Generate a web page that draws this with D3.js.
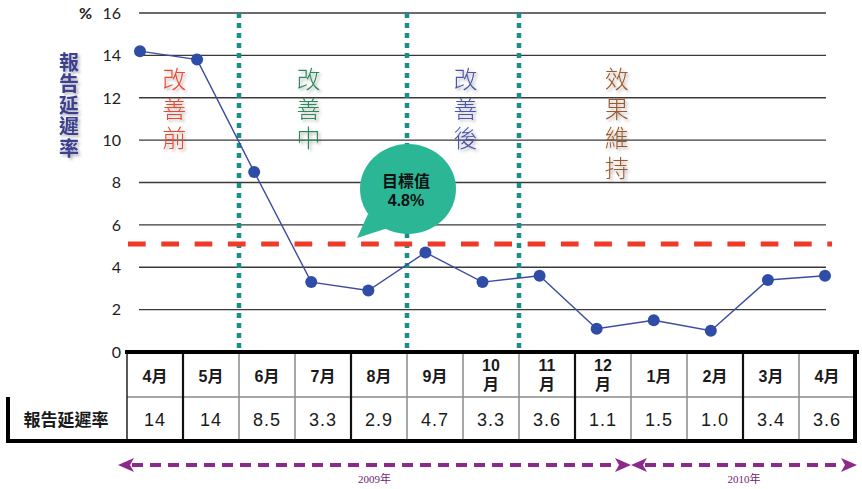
<!DOCTYPE html>
<html>
<head>
<meta charset="utf-8">
<script src="https://cdn.jsdelivr.net/npm/d3@7"></script>
<style>
  body { margin: 0; background: #fff; }
  svg { display: block; }
  .cjk { font-family: "Liberation Sans", "Noto Sans CJK TC", sans-serif; }
  .vert { writing-mode: vertical-rl; text-orientation: upright; }
</style>
</head>
<body>
<script>
// data
var months = ["4月", "5月", "6月", "7月", "8月", "9月", "10月", "11月", "12月", "1月", "2月", "3月", "4月"];
var tableValues = ["14", "14", "8.5", "3.3", "2.9", "4.7", "3.3", "3.6", "1.1", "1.5", "1.0", "3.4", "3.6"];
var plotValues = [14.2, 13.8, 8.5, 3.3, 2.9, 4.7, 3.3, 3.6, 1.1, 1.5, 1.0, 3.4, 3.6];
var yTicks = [0, 2, 4, 6, 8, 10, 12, 14, 16];
var targetLine = 5.1;
var targetLabel = ["目標值", "4.8%"];
var phaseCuts = [2, 5, 7];               // column index where each new phase starts
var phaseNames = ["改善前", "改善中", "改善後", "效果維持"];
var phaseAt = [0.6, 2.95, 5.7, 8.35];     // label position on the month axis
var phaseColors = ["#ea4a2e", "#2c8a5c", "#4b55a8", "#9c5a2a"];
var thickCols = [1, 4, 8, 11];
var years = [{label: "2009年", from: 0, to: 9}, {label: "2010年", from: 9, to: 13}];

var W = 862, H = 489;
var svg = d3.select("body").append("svg").attr("width", W).attr("height", H);

var defs = svg.append("defs");
var f = defs.append("filter").attr("id", "shadow").attr("x", "-50%").attr("y", "-50%").attr("width", "200%").attr("height", "200%");
f.append("feDropShadow").attr("dx", 2).attr("dy", 2).attr("stdDeviation", 1.6)
  .attr("flood-color", "#000").attr("flood-opacity", 0.3);

// scales
var y = d3.scaleLinear().domain([0, 16]).range([352, 13]);
var x = d3.scaleLinear().domain([0, months.length - 1]).range([140, 825]);
var col = d3.scaleBand().domain(d3.range(months.length)).range([127, 855]);

// gridlines
svg.append("g").selectAll("line")
  .data(yTicks.filter(d => d > 0))
  .enter().append("line")
  .attr("x1", 139).attr("x2", 826)
  .attr("y1", d => y(d)).attr("y2", d => y(d))
  .attr("stroke", "#3a3a3a").attr("stroke-width", 1.3);

// tick labels
svg.append("g").selectAll("text")
  .data(yTicks)
  .enter().append("text")
  .attr("x", 121).attr("y", d => y(d)).attr("dy", "0.36em")
  .attr("text-anchor", "end")
  .style("font-family", "Lato, sans-serif").style("font-size", "16px").attr("fill", "#222")
  .text(d => d);

svg.append("text").attr("x", 92).attr("y", y(16)).attr("dy", "0.36em")
  .attr("text-anchor", "end")
  .style("font-family", "Lato, sans-serif").style("font-size", "16px").style("font-weight", "bold")
  .attr("fill", "#222").text("%");

// y title, vertical
svg.append("text").attr("class", "vert").attr("filter", "url(#shadow)")
  .attr("x", 69).attr("y", 52)
  .style("font-family", "Noto Sans CJK TC").style("font-size", "20px").style("font-weight", "bold")
  .style("letter-spacing", "1.5px")
  .attr("fill", "#3c3f8e").text("報告延遲率");

// phase labels
phaseNames.forEach(function (name, p) {
  svg.append("text").attr("class", "vert").attr("filter", "url(#shadow)")
    .attr("x", x(phaseAt[p])).attr("y", 67)
    .style("font-family", "Noto Sans CJK TC").style("font-size", "24px").style("font-weight", "300")
    .style("letter-spacing", "5.5px")
    .attr("fill", phaseColors[p]).text(name);
});

// phase separators
svg.append("g").selectAll("line")
  .data(phaseCuts)
  .enter().append("line")
  .attr("x1", d => col(d)).attr("x2", d => col(d))
  .attr("y1", y(16)).attr("y2", y(0) - 2)
  .attr("stroke", "#178f88").attr("stroke-width", 4.5)
  .attr("stroke-dasharray", "5,5");

// target line
svg.append("line")
  .attr("x1", 128).attr("x2", 832)
  .attr("y1", y(targetLine)).attr("y2", y(targetLine))
  .attr("stroke", "#f03a28").attr("stroke-width", 5)
  .attr("stroke-dasharray", "17.7,15.6");

// series
var line = d3.line().x((d, i) => x(i)).y(d => y(d));
svg.append("path").datum(plotValues)
  .attr("d", line).attr("fill", "none")
  .attr("stroke", "#3d4ca0").attr("stroke-width", 1.4);

svg.append("g").selectAll("circle")
  .data(plotValues)
  .enter().append("circle")
  .attr("cx", (d, i) => x(i)).attr("cy", d => y(d)).attr("r", 6)
  .attr("fill", "#2f4ca6");

// callout bubble
var bx = 408, by = 189;
var bubble = svg.append("g");
bubble.append("path")
  .attr("d", "M368,214 L357,238 L388,228 Z")
  .attr("fill", "#2bb796");
bubble.append("ellipse").attr("cx", bx).attr("cy", by).attr("rx", 48).attr("ry", 45)
  .attr("fill", "#2bb796");
bubble.selectAll("text").data(targetLabel).enter().append("text")
  .attr("x", bx - 2).attr("y", (d, i) => by - 8 + i * 19).attr("dy", "0.36em")
  .attr("text-anchor", "middle")
  .style("font-family", "Liberation Sans, Noto Sans CJK TC").style("font-size", "16px").style("font-weight", "bold")
  .attr("fill", "#111").text(d => d);

// table
var top0 = 352, mid = 397, bot = 441;
var table = svg.append("g").attr("class", "cjk");

table.append("line").attr("x1", 127).attr("x2", 855).attr("y1", mid).attr("y2", mid)
  .attr("stroke", "#8a8a8a").attr("stroke-width", 1.5);

table.selectAll("line.col")
  .data(d3.range(1, months.length))
  .enter().append("line").attr("class", "col")
  .attr("x1", d => col(d)).attr("x2", d => col(d))
  .attr("y1", top0).attr("y2", bot)
  .attr("stroke", d => thickCols.includes(d) ? "#111" : "#8a8a8a")
  .attr("stroke-width", d => thickCols.includes(d) ? 2.2 : 1.5);

table.append("line").attr("x1", 127).attr("x2", 127).attr("y1", top0).attr("y2", bot)
  .attr("stroke", "#222").attr("stroke-width", 1.5);

// outer borders
table.append("line").attr("x1", 125).attr("x2", 859).attr("y1", top0).attr("y2", top0)
  .attr("stroke", "#000").attr("stroke-width", 4);
table.append("line").attr("x1", 855).attr("x2", 855).attr("y1", top0).attr("y2", bot)
  .attr("stroke", "#000").attr("stroke-width", 4);
table.append("line").attr("x1", 6).attr("x2", 857).attr("y1", bot).attr("y2", bot)
  .attr("stroke", "#000").attr("stroke-width", 4);
table.append("line").attr("x1", 8).attr("x2", 8).attr("y1", mid).attr("y2", bot + 2)
  .attr("stroke", "#000").attr("stroke-width", 4);

// month headers
var mh = table.selectAll("g.m").data(months).enter().append("g").attr("class", "m")
  .attr("transform", (d, i) => "translate(" + (col(i) + col.bandwidth() / 2) + ",0)");
mh.each(function (d) {
  var g = d3.select(this);
  var num = d.replace("月", "");
  if (num.length > 1) {
    g.append("text").attr("y", 365).attr("dy", "0.36em").text(num);
    g.append("text").attr("y", 384).attr("dy", "0.36em").text("月");
  } else {
    g.append("text").attr("y", 376).attr("dy", "0.36em").text(d);
  }
});
mh.selectAll("text")
  .attr("text-anchor", "middle").style("font-size", "16px").style("font-weight", "bold")
  .attr("fill", "#1a1a1a");

table.selectAll("text.v").data(tableValues).enter().append("text").attr("class", "v")
  .attr("x", (d, i) => col(i) + col.bandwidth() / 2).attr("y", 420).attr("dy", "0.36em")
  .attr("text-anchor", "middle").style("font-size", "18px").style("letter-spacing", "1px")
  .attr("fill", "#1a1a1a").text(d => d);

table.append("text").attr("x", 66).attr("y", 420).attr("dy", "0.36em")
  .attr("text-anchor", "middle").style("font-size", "17px").style("font-weight", "bold")
  .attr("fill", "#1a1a1a").text("報告延遲率");

// year arrows
var ay = 465;
function edge(i) { return i >= months.length ? 857 : (i === 0 ? 118 : col(i)); }
years.forEach(function (yr) {
  var a = edge(yr.from), b = edge(yr.to);
  var g = svg.append("g");
  g.append("line").attr("x1", a + 14).attr("x2", b - 14).attr("y1", ay).attr("y2", ay)
    .attr("stroke", "#8c2a8c").attr("stroke-width", 4).attr("stroke-dasharray", "11,7");
  g.append("path")
    .attr("d", "M" + a + "," + ay + " L" + (a + 16) + "," + (ay - 7) + " L" + (a + 12) + "," + ay + " L" + (a + 16) + "," + (ay + 7) + " Z")
    .attr("fill", "#8c2a8c");
  g.append("path")
    .attr("d", "M" + b + "," + ay + " L" + (b - 16) + "," + (ay - 7) + " L" + (b - 12) + "," + ay + " L" + (b - 16) + "," + (ay + 7) + " Z")
    .attr("fill", "#8c2a8c");
  g.append("text").attr("x", (a + b) / 2).attr("y", ay + 14).attr("dy", "0.36em")
    .attr("text-anchor", "middle")
    .style("font-family", "Liberation Serif, Noto Sans CJK TC").style("font-size", "11px")
    .attr("fill", "#6e2470").text(yr.label);
});
</script>
</body>
</html>
